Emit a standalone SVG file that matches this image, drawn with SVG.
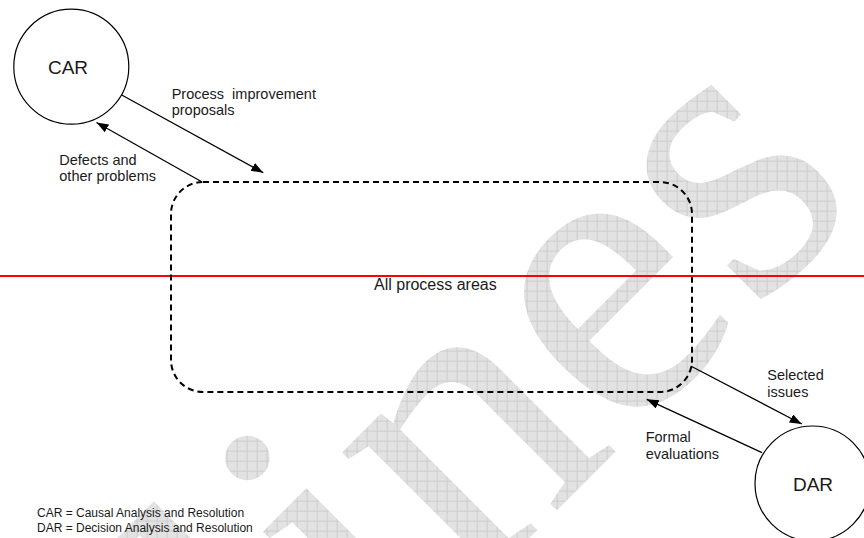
<svg xmlns="http://www.w3.org/2000/svg" width="864" height="538" viewBox="0 0 864 538">
  <style>
    .lbl { font-family: "Liberation Sans", Arial, sans-serif; font-size: 14.5px; fill: #1a1a1a; }
    .node-name { font-family: "Liberation Sans", Arial, sans-serif; font-size: 19px; fill: #1a1a1a; }
    .legend { font-family: "Liberation Sans", Arial, sans-serif; font-size: 12px; fill: #1a1a1a; }
    .node { fill: #ffffff; stroke: #000000; stroke-width: 1.2; }
    .conn { stroke: #000000; stroke-width: 1.3; fill: none; marker-end: url(#head); }
  </style>
  <defs>
    <pattern id="grid" width="10" height="10" patternUnits="userSpaceOnUse" patternTransform="rotate(45)">
      <rect width="10" height="10" fill="#e2e2e2"/>
      <path d="M0 0.5 H10 M0.5 0 V10" stroke="#cdcdcd" stroke-width="1"/>
    </pattern>
    <marker id="head" markerUnits="userSpaceOnUse" markerWidth="13" markerHeight="10" refX="12" refY="4.5" orient="auto">
      <path d="M0 0 L12 4.5 L0 9 Z" fill="#000000"/>
    </marker>
  </defs>

  <rect width="864" height="538" fill="#ffffff"/>

  <!-- background watermark -->
  <text transform="translate(306.6,760.6) rotate(-45)" font-family="'Liberation Serif', 'Times New Roman', serif" font-size="420" fill="url(#grid)">lines</text>

  <!-- red guide line -->
  <line x1="0" y1="276" x2="864" y2="276" stroke="#ff0000" stroke-width="2"/>

  <g id="all-process-areas">
    <rect x="171" y="182" width="521" height="210" rx="32" ry="32" fill="none" stroke="#000000" stroke-width="2" stroke-dasharray="6 4"/>
    <text class="lbl" x="374" y="290" style="font-size:16px">All process areas</text>
  </g>

  <g id="car">
    <circle class="node" cx="71.3" cy="66.7" r="57.5"/>
    <text class="node-name" x="68" y="74" text-anchor="middle">CAR</text>
  </g>

  <g id="dar">
    <circle class="node" cx="812.5" cy="483.5" r="57.5"/>
    <text class="node-name" x="813" y="491" text-anchor="middle">DAR</text>
  </g>

  <g id="connectors">
    <line class="conn" x1="121.7" y1="95" x2="263.3" y2="172.7"/>
    <line class="conn" x1="201.7" y1="181.7" x2="96.5" y2="122.5"/>
    <line class="conn" x1="690.7" y1="366" x2="801.7" y2="424"/>
    <line class="conn" x1="762" y1="452.7" x2="646.7" y2="399.3"/>
  </g>

  <g id="labels">
    <text class="lbl" x="171.7" y="99">Process&#160; improvement</text>
    <text class="lbl" x="171.7" y="115">proposals</text>
    <text class="lbl" x="59.3" y="164.7">Defects and</text>
    <text class="lbl" x="59.3" y="180.5">other problems</text>
    <text class="lbl" x="767.3" y="380">Selected</text>
    <text class="lbl" x="767.3" y="396.5">issues</text>
    <text class="lbl" x="645.7" y="442">Formal</text>
    <text class="lbl" x="645.7" y="458.5">evaluations</text>
  </g>

  <g id="legend">
    <text class="legend" x="37" y="517.3">CAR = Causal Analysis and Resolution</text>
    <text class="legend" x="37" y="532.3">DAR = Decision Analysis and Resolution</text>
  </g>
</svg>
